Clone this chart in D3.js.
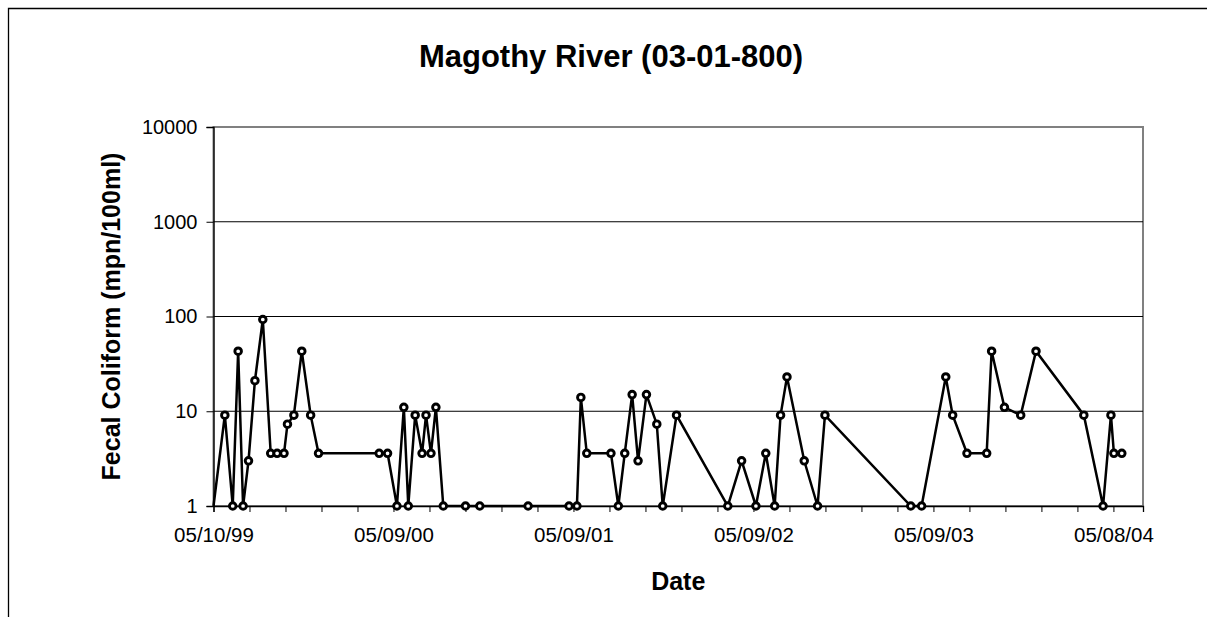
<!DOCTYPE html>
<html>
<head>
<meta charset="utf-8">
<script src="https://cdn.jsdelivr.net/npm/d3@7"></script>
<style>
  html, body { margin: 0; padding: 0; background: #fff; overflow: hidden; }
  svg { display: block; }
  text { font-family: "Liberation Sans", Arial, sans-serif; fill: #000; }
</style>
</head>
<body>
<svg id="chart" width="1207" height="617"></svg>
<script>
// ---- data ----
const chartTitle = "Magothy River (03-01-800)";
const xAxisTitle = "Date";
const yAxisTitle = "Fecal Coliform (mpn/100ml)";

const sampleDates = [
  "05/10/99","06/02/99","06/18/99","06/29/99","07/09/99","07/20/99","08/02/99","08/18/99",
  "09/03/99","09/16/99","09/30/99","10/07/99","10/20/99","11/05/99","11/23/99","12/09/99",
  "04/10/00","04/27/00","05/16/00","05/30/00","06/08/00","06/22/00","07/06/00","07/14/00",
  "07/24/00","08/03/00","08/18/00","10/02/00","10/31/00","02/06/01","04/30/01","05/16/01",
  "05/24/01","06/05/01","07/24/01","08/08/01","08/21/01","09/05/01","09/17/01","10/04/01",
  "10/25/01","11/06/01","12/04/01","03/18/02","04/15/02","05/14/02","06/03/02","06/21/02",
  "07/03/02","07/16/02","08/20/02","09/16/02","10/01/02","03/24/03","04/15/03","06/03/03",
  "06/17/03","07/16/03","08/25/03","09/04/03","09/30/03","11/02/03","12/03/03","03/09/04",
  "04/17/04","05/03/04","05/09/04","05/25/04"
];
const fecalColiform = [
  1, 9.1, 1, 43, 1, 3, 21, 93,
  3.6, 3.6, 3.6, 7.3, 9.1, 43, 9.1, 3.6,
  3.6, 3.6, 1, 11, 1, 9.1, 3.6, 9.1,
  3.6, 11, 1, 1, 1, 1, 1, 1,
  14, 3.6, 3.6, 1, 3.6, 15, 3, 15,
  7.3, 1, 9.1, 1, 3, 1, 3.6, 1,
  9.1, 23, 3, 1, 9.1, 1, 1, 23,
  9.1, 3.6, 3.6, 43, 11, 9.1, 43, 9.1,
  1, 9.1, 3.6, 3.6
];
const yTickValues = [1, 10, 100, 1000, 10000];
const xAxisStart = "05/10/99";
const xAxisEnd = "07/07/04";
const xTickStepDays = 73;
const xLabelEvery = 5;

// ---- drawing ----
const parse = d3.utcParse("%m/%d/%y");
const fmt = d3.utcFormat("%m/%d/%y");
const data = sampleDates.map((d, i) => ({ date: parse(d), value: fecalColiform[i] }));

const svg = d3.select("#chart");
const plot = { left: 213.5, right: 1143, top: 127, bottom: 506 };

const x = d3.scaleUtc()
  .domain([parse(xAxisStart), parse(xAxisEnd)])
  .range([plot.left, plot.right]);
const y = d3.scaleLog()
  .domain([1, 10000])
  .range([plot.bottom, plot.top]);

// outer chart border (only top and left edges fall inside the picture)
svg.append("path")
  .attr("d", "M8.5,617V8.5H1207")
  .attr("fill", "none").attr("stroke", "#000").attr("stroke-width", 1.3);

// plot area
svg.append("rect")
  .attr("x", plot.left).attr("y", plot.top)
  .attr("width", plot.right - plot.left).attr("height", plot.bottom - plot.top)
  .attr("fill", "#fff").attr("stroke", "#808080").attr("stroke-width", 2);

// gridlines
svg.append("g").selectAll("line")
  .data(yTickValues.filter(v => v > 1 && v < 10000))
  .join("line")
  .attr("x1", plot.left).attr("x2", plot.right)
  .attr("y1", d => y(d)).attr("y2", d => y(d))
  .attr("stroke", "#000").attr("stroke-width", 1);

// x axis
const start = parse(xAxisStart);
const xTicks = d3.range(0, 100)
  .map(i => d3.utcDay.offset(start, i * xTickStepDays))
  .filter(d => d <= x.domain()[1]);
const xAxis = d3.axisBottom(x)
  .tickValues(xTicks)
  .tickSize(6)
  .tickPadding(15)
  .tickFormat((d, i) => i % xLabelEvery === 0 ? fmt(d) : "");
const gx = svg.append("g")
  .attr("transform", `translate(0,${plot.bottom})`)
  .call(xAxis);
gx.select(".domain").attr("stroke", "#000").attr("stroke-width", 1.3);
gx.selectAll(".tick line").attr("stroke", "#000").attr("stroke-width", 1);
gx.selectAll(".tick text").attr("font-size", "20.5px").attr("font-family", "Liberation Sans, Arial, sans-serif");

// y axis
const yAxis = d3.axisLeft(y)
  .tickValues(yTickValues)
  .tickSize(7)
  .tickPadding(9)
  .tickFormat(d3.format("d"));
const gy = svg.append("g")
  .attr("transform", `translate(${plot.left},0)`)
  .call(yAxis);
gy.select(".domain").attr("stroke", "#000").attr("stroke-width", 1.3);
gy.selectAll(".tick line").attr("stroke", "#000").attr("stroke-width", 1);
gy.selectAll(".tick text").attr("font-size", "20px").attr("font-family", "Liberation Sans, Arial, sans-serif");

// series line
const line = d3.line().x(d => x(d.date)).y(d => y(d.value));
svg.append("path")
  .datum(data)
  .attr("d", line)
  .attr("fill", "none")
  .attr("stroke", "#000")
  .attr("stroke-width", 2.5)
  .attr("stroke-linejoin", "miter");

// markers (points strictly inside the date range)
svg.append("g").selectAll("circle")
  .data(data.filter(d => d.date > x.domain()[0]))
  .join("circle")
  .attr("cx", d => x(d.date))
  .attr("cy", d => y(d.value))
  .attr("r", 3.3)
  .attr("fill", "#fff")
  .attr("stroke", "#000")
  .attr("stroke-width", 2.9);

// titles
svg.append("text")
  .attr("x", 611).attr("y", 67)
  .attr("text-anchor", "middle")
  .attr("font-size", "31px").attr("font-weight", "bold")
  .text(chartTitle);

svg.append("text")
  .attr("x", (plot.left + plot.right) / 2).attr("y", 590)
  .attr("text-anchor", "middle")
  .attr("font-size", "25px").attr("font-weight", "bold")
  .text(xAxisTitle);

svg.append("text")
  .attr("transform", `translate(120,${(plot.top + plot.bottom) / 2}) rotate(-90)`)
  .attr("text-anchor", "middle")
  .attr("font-size", "25px").attr("font-weight", "bold")
  .text(yAxisTitle);
</script>
</body>
</html>
